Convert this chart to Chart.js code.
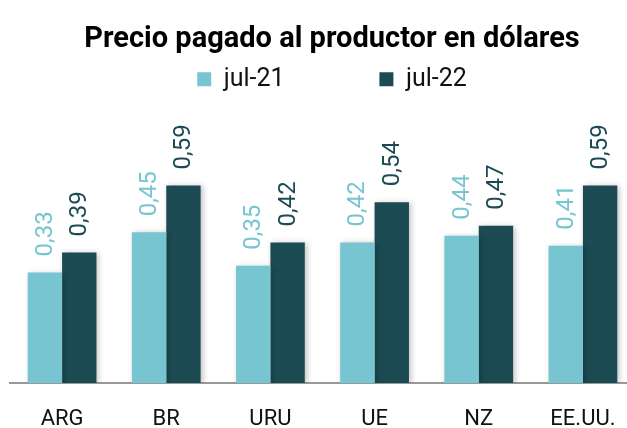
<!DOCTYPE html>
<html>
<head>
<meta charset="utf-8">
<script src="https://cdn.jsdelivr.net/npm/chart.js@4"></script>
<style>
  html, body { margin: 0; padding: 0; background: #fff; overflow: hidden; }
  #wrap { width: 664px; height: 428px; }
</style>
</head>
<body>
<div id="wrap"><canvas id="precioChart"></canvas></div>
<script>
/****************************** Precio pagado al productor ********************************/
const categories = ["ARG", "BR", "URU", "UE", "NZ", "EE.UU."];
const seriesNames = ["jul-21", "jul-22"];
const jul21 = [0.33, 0.45, 0.35, 0.42, 0.44, 0.41];
const jul22 = [0.39, 0.59, 0.42, 0.54, 0.47, 0.59];
const barColors = ["#76C5D1", "#1C4B54"];

// etiquetas verticales encima de cada barra
const valueLabels = {
    id: "valueLabels",
    afterDatasetsDraw(chart) {
        const ctx = chart.ctx;
        chart.data.datasets.forEach(function (ds, i) {
            chart.getDatasetMeta(i).data.forEach(function (bar, j) {
                ctx.save();
                ctx.translate(bar.x + 7, bar.y - 16);
                ctx.rotate(-Math.PI / 2);
                ctx.font = "24px Roboto";
                ctx.fillStyle = barColors[i];
                ctx.textAlign = "left";
                ctx.textBaseline = "alphabetic";
                ctx.fillText(ds.data[j].toFixed(2).replace(".", ","), 0, 0);
                ctx.restore();
            });
        });
    }
};

// sombra suave de las barras
const barShadow = {
    id: "barShadow",
    beforeDatasetsDraw(chart) {
        const ctx = chart.ctx;
        ctx.save();
        ctx.shadowColor = "rgba(0,0,0,0.25)";
        ctx.shadowBlur = 6;
        ctx.shadowOffsetX = 2;
        ctx.shadowOffsetY = 1;
    },
    afterDatasetsDraw(chart) {
        chart.ctx.restore();
    }
};

const hiddenAxis = {
    grid: { display: false },
    border: { display: false },
    ticks: { display: false }
};

new Chart("precioChart", {
    type: "bar",
    data: {
        labels: categories,
        datasets: [
            { label: seriesNames[0], data: jul21, backgroundColor: barColors[0] },
            { label: seriesNames[1], data: jul22, backgroundColor: barColors[1] }
        ]
    },
    options: {
        responsive: true,
        maintainAspectRatio: false,
        animation: false,
        layout: { padding: 0 },
        datasets: { bar: { categoryPercentage: 0.66, barPercentage: 1.0 } },
        plugins: {
            title: {
                display: true,
                text: "Precio pagado al productor en dólares",
                color: "#000",
                font: { family: "Roboto", size: 29, weight: "bold" },
                padding: { top: 22, bottom: 2 }
            },
            legend: {
                labels: {
                    boxWidth: 14,
                    boxHeight: 14,
                    padding: 8,
                    color: "#111",
                    font: { family: "Roboto", size: 25 },
                    generateLabels(chart) {
                        const items = Chart.defaults.plugins.legend.labels.generateLabels(chart);
                        items[0].text += " ".repeat(14); // hueco entre las dos series
                        return items;
                    }
                }
            },
            tooltip: { enabled: false }
        },
        scales: {
            x: {
                grid: { display: false },
                border: { display: true, color: "#999", width: 2 },
                ticks: { color: "#111", padding: 15, font: { family: "Roboto", size: 22 } },
                afterFit(scale) { scale.height = 45; }
            },
            y: Object.assign({
                min: 0,
                max: 0.84,
                afterFit(scale) { scale.width = 10; }
            }, hiddenAxis),
            y2: Object.assign({
                type: "linear",
                position: "right",
                afterFit(scale) { scale.width = 29; }
            }, hiddenAxis)
        }
    },
    plugins: [barShadow, valueLabels]
});
</script>
</body>
</html>
